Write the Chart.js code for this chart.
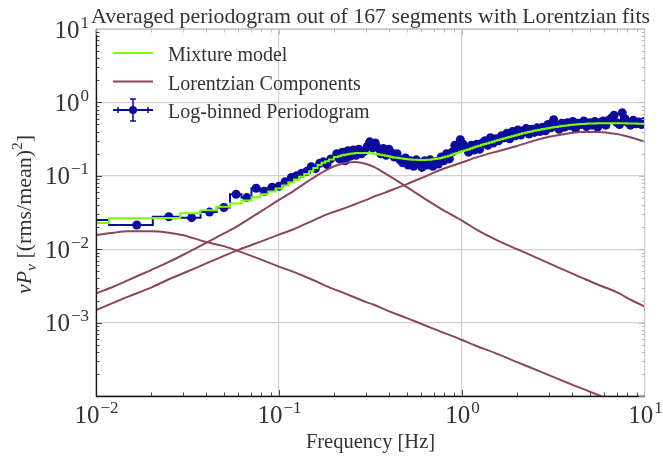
<!DOCTYPE html>
<html>
<head>
<meta charset="utf-8">
<title>Averaged periodogram</title>
<script src="https://cdn.jsdelivr.net/npm/chart.js@4.4.1/dist/chart.umd.min.js"></script>
<style>
  html, body { margin: 0; padding: 0; background: #fff; }
</style>
</head>
<body>
<canvas id="psdChart" width="663" height="457"></canvas>
<script>
// Log-binned periodogram: bin frequencies [Hz] and nu*P_nu values
const binFreq = [
  0.00833, 0.0167, 0.025, 0.0333, 0.0417, 0.05, 0.0583, 0.0667, 0.075, 0.0833,
  0.0917, 0.1, 0.108, 0.117, 0.125, 0.133, 0.142, 0.15, 0.158, 0.167,
  0.175, 0.183, 0.192,
  0.207, 0.214, 0.222, 0.230, 0.238, 0.246, 0.255, 0.264, 0.273, 0.282,
  0.292, 0.303, 0.313, 0.324, 0.336, 0.347, 0.360, 0.372, 0.385, 0.399,
  0.413, 0.427, 0.442, 0.458, 0.474, 0.491, 0.508, 0.526, 0.544, 0.563,
  0.583, 0.604, 0.625, 0.647, 0.670, 0.693, 0.717, 0.743, 0.769, 0.796,
  0.824, 0.853, 0.883, 0.914, 0.946, 0.979, 1.013, 1.049, 1.086, 1.124,
  1.163, 1.204, 1.247, 1.290, 1.336, 1.383, 1.431, 1.482, 1.534, 1.588,
  1.643, 1.701, 1.761, 1.823, 1.887, 1.953, 2.022, 2.093, 2.166, 2.243,
  2.321, 2.403, 2.487, 2.575, 2.665, 2.759, 2.856, 2.956, 3.060, 3.168,
  3.279, 3.394, 3.513, 3.637, 3.765, 3.897, 4.034, 4.176, 4.322, 4.474,
  4.632, 4.794, 4.963, 5.137, 5.318, 5.505, 5.698, 5.898, 6.106, 6.320,
  6.542, 6.772, 7.010, 7.256, 7.511, 7.775, 8.049, 8.331, 8.624, 8.927,
  9.241, 9.566, 9.902
];
const periodogram = [
  0.025, 0.0214, 0.0277, 0.0269, 0.032, 0.037, 0.056, 0.0505, 0.0676, 0.0615,
  0.0697, 0.072, 0.083, 0.095, 0.1, 0.108, 0.115, 0.133, 0.125, 0.148,
  0.155, 0.142, 0.17,
  0.2, 0.17, 0.21, 0.16, 0.22, 0.185, 0.225, 0.19, 0.23, 0.2,
  0.215, 0.25, 0.29, 0.24, 0.28, 0.24, 0.2, 0.235, 0.19, 0.23,
  0.205, 0.18, 0.2, 0.165, 0.15, 0.175, 0.14, 0.16, 0.135, 0.165,
  0.145, 0.13, 0.16, 0.14, 0.165, 0.135, 0.155, 0.145, 0.18, 0.16,
  0.2, 0.17, 0.21, 0.26, 0.23, 0.31, 0.27, 0.24, 0.21, 0.26,
  0.225, 0.27, 0.23, 0.28, 0.3, 0.26, 0.33, 0.28, 0.32, 0.3,
  0.35, 0.33, 0.38, 0.32, 0.4, 0.35, 0.42, 0.36, 0.41, 0.44,
  0.37, 0.43, 0.39, 0.45, 0.4, 0.46, 0.41, 0.5, 0.45, 0.58,
  0.47, 0.43, 0.52, 0.46, 0.53, 0.48, 0.55, 0.44, 0.52, 0.5,
  0.56, 0.47, 0.53, 0.49, 0.55, 0.46, 0.53, 0.56, 0.49, 0.57,
  0.61, 0.67, 0.53, 0.5, 0.72, 0.6, 0.53, 0.49, 0.57, 0.51,
  0.54, 0.5, 0.55
];
// Mixture model evaluated at the same bin frequencies
const mixtureModel = [
  0.0228, 0.0265, 0.0266, 0.031, 0.034, 0.038, 0.042, 0.046, 0.051, 0.056,
  0.061, 0.067, 0.074, 0.081, 0.089, 0.097, 0.106, 0.115, 0.128, 0.14,
  0.15, 0.158, 0.167,
  0.18, 0.185, 0.19, 0.194, 0.197, 0.2, 0.202, 0.204, 0.205, 0.205,
  0.205, 0.204, 0.203, 0.201, 0.199, 0.196, 0.193, 0.19, 0.187, 0.184,
  0.181, 0.178, 0.176, 0.174, 0.172, 0.17, 0.168, 0.167, 0.166, 0.165,
  0.164, 0.164, 0.164, 0.165, 0.166, 0.168, 0.17, 0.172, 0.175, 0.179,
  0.183, 0.188, 0.193, 0.199, 0.205, 0.211, 0.217, 0.223, 0.229, 0.236,
  0.243, 0.25, 0.257, 0.264, 0.271, 0.278, 0.285, 0.292, 0.3, 0.308,
  0.315, 0.323, 0.331, 0.339, 0.347, 0.355, 0.363, 0.371, 0.379, 0.387,
  0.395, 0.402, 0.41, 0.417, 0.424, 0.431, 0.438, 0.445, 0.452, 0.458,
  0.464, 0.47, 0.476, 0.481, 0.486, 0.491, 0.495, 0.499, 0.503, 0.506,
  0.509, 0.512, 0.514, 0.516, 0.517, 0.518, 0.519, 0.52, 0.52, 0.52,
  0.52, 0.52, 0.519, 0.519, 0.518, 0.518, 0.517, 0.516, 0.515, 0.514,
  0.513, 0.512, 0.511
];

// Individual Lorentzian components on a common frequency grid
const lorentzFreq = [
  0.01, 0.0125, 0.015, 0.02, 0.025, 0.03, 0.04, 0.05, 0.06, 0.08,
  0.1, 0.12, 0.15, 0.19, 0.22, 0.26, 0.3, 0.33, 0.38, 0.44,
  0.5, 0.64, 0.76, 1, 1.2, 1.5, 2, 2.7, 3.5, 4.5,
  5.5, 7, 8.5, 10
];
const lorentzLow = [
  0.0156, 0.0168, 0.0175, 0.0176, 0.0168, 0.0155, 0.0125, 0.011, 0.0094, 0.0072,
  0.0058, 0.0049, 0.0039, 0.003, 0.0026, 0.0022, 0.0019, 0.00175, 0.0015, 0.0013,
  0.00115, 0.0009, 0.00076, 0.00058, 0.00048, 0.00039, 0.00029, 0.000213, 0.000163, 0.000127,
  0.000104, 0.000082, 0.000068, 0.000058
];
const lorentzQpo = [
  0.0025, 0.0031, 0.0038, 0.0052, 0.0067, 0.0084, 0.0122, 0.0164, 0.021, 0.033,
  0.047, 0.062, 0.09, 0.127, 0.146, 0.154, 0.145, 0.132, 0.108, 0.086,
  0.07, 0.047, 0.036, 0.0245, 0.0185, 0.0138, 0.01, 0.0072, 0.0054, 0.0041,
  0.0033, 0.0026, 0.002, 0.00165
];
const lorentzHigh = [
  0.00148, 0.00187, 0.00226, 0.003, 0.0039, 0.0047, 0.0064, 0.0081, 0.0098, 0.0128,
  0.0158, 0.0187, 0.024, 0.031, 0.035, 0.041, 0.047, 0.052, 0.059, 0.068,
  0.077, 0.1, 0.12, 0.152, 0.178, 0.21, 0.255, 0.32, 0.365, 0.395,
  0.395, 0.37, 0.33, 0.29
];

const xDecades = [-2, -1, 0, 1];
const yDecades = [-3, -2, -1, 0, 1];

const DATA_BLUE = '#0b0b9c';
const MODEL_GREEN = '#7cfc00';
const LORENTZ_RED = '#8a4560';
const GRID_GREY = '#d2d2d2';
const TEXT_GREY = '#333333';
const SERIF = '"Liberation Serif", "Times New Roman", serif';

function font(size, style) {
  return (style ? style + ' ' : '') + size + 'px ' + SERIF;
}

function pairs(xs, ys) {
  return xs.map((v, i) => ({ x: v, y: ys[i] }));
}

function isDecade(v) {
  const l = Math.log10(v);
  return Math.abs(l - Math.round(l)) < 1e-6;
}

// "10" with a raised exponent
function powerLabel(ctx, exp, x, baseY, align) {
  const sup = exp < 0 ? '\u2212' + (-exp) : String(exp);
  ctx.font = font(25);
  const w1 = ctx.measureText('10').width;
  ctx.font = font(17);
  const w2 = ctx.measureText(sup).width;
  const left = align === 'right' ? x - w1 - w2 : x - (w1 + w2) / 2;
  ctx.textAlign = 'left';
  ctx.font = font(25);
  ctx.fillText('10', left, baseY);
  ctx.font = font(17);
  ctx.fillText(sup, left + w1 + 1, baseY - 10);
}

// Axes frame, inner ticks, labels, title and legend
const decorations = {
  id: 'decorations',
  afterDraw(chart) {
    const { ctx, chartArea: a, scales: { x, y } } = chart;
    ctx.save();

    // spines
    ctx.lineWidth = 1;
    ctx.strokeStyle = '#c8c8c8';
    ctx.beginPath();
    ctx.moveTo(a.left, a.top + 0.5); ctx.lineTo(a.right, a.top + 0.5);
    ctx.moveTo(a.right - 0.5, a.top); ctx.lineTo(a.right - 0.5, a.bottom);
    ctx.stroke();
    ctx.strokeStyle = '#1a1a1a';
    ctx.lineWidth = 1.3;
    ctx.beginPath();
    ctx.moveTo(a.left + 0.5, a.top); ctx.lineTo(a.left + 0.5, a.bottom + 0.5);
    ctx.lineTo(a.right, a.bottom + 0.5);
    ctx.stroke();

    // inner tick marks, 1..9 per decade
    ctx.lineWidth = 0.8;
    for (let e = -2; e < 1; e++) {
      for (let m = 1; m < 10; m++) {
        const px = Math.round(x.getPixelForValue(m * Math.pow(10, e))) + 0.5;
        const len = m === 1 ? 6 : 3.5;
        ctx.strokeStyle = '#1a1a1a';
        ctx.beginPath(); ctx.moveTo(px, a.bottom); ctx.lineTo(px, a.bottom - len); ctx.stroke();
        ctx.strokeStyle = '#b0b0b0';
        ctx.beginPath(); ctx.moveTo(px, a.top); ctx.lineTo(px, a.top + len); ctx.stroke();
      }
    }
    for (let e = -4; e < 1; e++) {
      for (let m = 1; m < 10; m++) {
        const py = Math.round(y.getPixelForValue(m * Math.pow(10, e))) + 0.5;
        const len = m === 1 ? 6 : 3.5;
        ctx.strokeStyle = '#1a1a1a';
        ctx.beginPath(); ctx.moveTo(a.left, py); ctx.lineTo(a.left + len, py); ctx.stroke();
        ctx.strokeStyle = '#b0b0b0';
        ctx.beginPath(); ctx.moveTo(a.right, py); ctx.lineTo(a.right - len, py); ctx.stroke();
      }
    }

    // tick labels
    ctx.fillStyle = TEXT_GREY;
    ctx.textBaseline = 'alphabetic';
    xDecades.forEach(e => powerLabel(ctx, e, x.getPixelForValue(Math.pow(10, e)), a.bottom + 27, 'center'));
    yDecades.forEach(e => powerLabel(ctx, e, a.left - 8, y.getPixelForValue(Math.pow(10, e)) + 8.5, 'right'));

    // title
    ctx.font = font(21.8);
    ctx.textAlign = 'center';
    ctx.fillText('Averaged periodogram out of 167 segments with Lorentzian fits', (a.left + a.right) / 2, a.top - 6);

    // x axis title
    ctx.font = font(20.5);
    ctx.fillText('Frequency [Hz]', (a.left + a.right) / 2, a.bottom + 52);

    // y axis title: nu P_nu [(rms/mean)^2]
    const parts = [
      { t: '\u03bd', f: font(22, 'italic'), dy: 0 },
      { t: 'P', f: font(22, 'italic'), dy: 0 },
      { t: '\u03bd', f: font(15, 'italic'), dy: 5 },
      { t: ' [(rms/mean)', f: font(22), dy: 0 },
      { t: '2', f: font(15), dy: -9 },
      { t: ']', f: font(22), dy: 0 }
    ];
    let total = 0;
    parts.forEach(p => { ctx.font = p.f; p.w = ctx.measureText(p.t).width; total += p.w; });
    ctx.save();
    ctx.translate(31, (a.top + a.bottom) / 2 + 2);
    ctx.rotate(-Math.PI / 2);
    ctx.textAlign = 'left';
    let cx = -total / 2;
    parts.forEach(p => { ctx.font = p.f; ctx.fillText(p.t, cx, p.dy); cx += p.w; });
    ctx.restore();

    // legend
    const rows = [
      { label: 'Mixture model', color: MODEL_GREEN, bars: false },
      { label: 'Lorentzian Components', color: LORENTZ_RED, bars: false },
      { label: 'Log-binned Periodogram', color: DATA_BLUE, bars: true }
    ];
    const lx0 = a.left + 17, lx1 = a.left + 57, mid = (lx0 + lx1) / 2;
    rows.forEach((r, i) => {
      const ly = a.top + 24 + i * 28.5;
      ctx.strokeStyle = r.color;
      ctx.lineWidth = 2;
      ctx.beginPath(); ctx.moveTo(lx0, ly); ctx.lineTo(lx1, ly); ctx.stroke();
      if (r.bars) {
        ctx.lineWidth = 1.5;
        ctx.beginPath();
        ctx.moveTo(mid, ly - 11); ctx.lineTo(mid, ly + 11);
        ctx.moveTo(mid - 3, ly - 11); ctx.lineTo(mid + 3, ly - 11);
        ctx.moveTo(mid - 3, ly + 11); ctx.lineTo(mid + 3, ly + 11);
        ctx.moveTo(lx0 + 5, ly - 3); ctx.lineTo(lx0 + 5, ly + 3);
        ctx.moveTo(lx1 - 5, ly - 3); ctx.lineTo(lx1 - 5, ly + 3);
        ctx.stroke();
        ctx.fillStyle = r.color;
        ctx.beginPath(); ctx.arc(mid, ly, 4, 0, Math.PI * 2); ctx.fill();
      }
      ctx.fillStyle = TEXT_GREY;
      ctx.font = font(20);
      ctx.textAlign = 'left';
      ctx.fillText(r.label, a.left + 72, ly + 8);
    });

    ctx.restore();
  }
};

function componentSet(values) {
  return {
    data: pairs(lorentzFreq, values),
    borderColor: LORENTZ_RED,
    borderWidth: 2,
    pointRadius: 0,
    cubicInterpolationMode: 'monotone',
    clip: 0,
    order: 1
  };
}

const ctx = document.getElementById('psdChart').getContext('2d');
new Chart(ctx, {
  type: 'line',
  data: {
    datasets: [
      {
        label: 'Mixture model',
        data: pairs(binFreq, mixtureModel),
        borderColor: MODEL_GREEN,
        borderWidth: 2,
        pointRadius: 0,
        stepped: 'middle',
        clip: 0,
        order: 0
      },
      Object.assign({ label: 'Lorentzian Components' }, componentSet(lorentzLow)),
      Object.assign({ label: 'Lorentzian QPO' }, componentSet(lorentzQpo)),
      Object.assign({ label: 'Lorentzian high' }, componentSet(lorentzHigh)),
      {
        label: 'Log-binned Periodogram',
        data: pairs(binFreq, periodogram),
        borderColor: DATA_BLUE,
        backgroundColor: DATA_BLUE,
        borderWidth: 2,
        pointRadius: 4.5,
        pointBorderWidth: 0,
        stepped: 'middle',
        clip: 0,
        order: 2
      }
    ]
  },
  options: {
    responsive: false,
    animation: false,
    devicePixelRatio: 1,
    layout: { padding: { left: 96, right: 18, top: 29, bottom: 61 } },
    plugins: { legend: { display: false }, tooltip: { enabled: false } },
    scales: {
      x: {
        type: 'logarithmic',
        min: 0.01,
        max: 10,
        ticks: { display: false },
        border: { display: false },
        grid: {
          drawTicks: false,
          lineWidth: 1.2,
          color: c => isDecade(c.tick.value) ? GRID_GREY : 'rgba(0,0,0,0)'
        }
      },
      y: {
        type: 'logarithmic',
        min: 0.0001,
        max: 10,
        ticks: { display: false },
        border: { display: false },
        grid: {
          drawTicks: false,
          lineWidth: 1.2,
          color: c => isDecade(c.tick.value) ? GRID_GREY : 'rgba(0,0,0,0)'
        }
      }
    }
  },
  plugins: [decorations]
});
</script>
</body>
</html>
